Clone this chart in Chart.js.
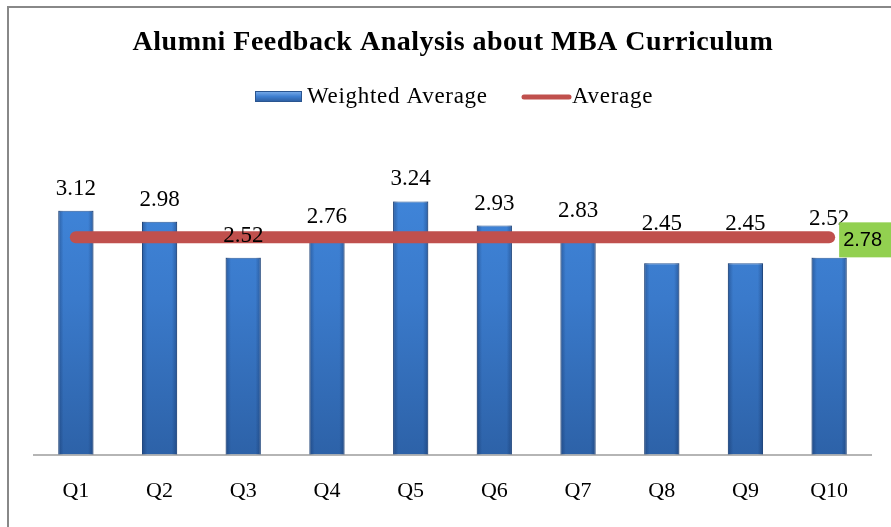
<!DOCTYPE html>
<html>
<head>
<meta charset="utf-8">
<script src="https://cdn.jsdelivr.net/npm/chart.js@4"></script>
<style>
  html, body { margin: 0; padding: 0; background: #fff; }
  #wrap { width: 891px; height: 527px; position: relative; }
</style>
</head>
<body>
<div id="wrap"><canvas id="myChart" width="891" height="527"></canvas></div>
<script>
const questions = ['Q1', 'Q2', 'Q3', 'Q4', 'Q5', 'Q6', 'Q7', 'Q8', 'Q9', 'Q10'];
const weightedAvg = [3.12, 2.98, 2.52, 2.76, 3.24, 2.93, 2.83, 2.45, 2.45, 2.52];
const overallAvg = [2.78, 2.78, 2.78, 2.78, 2.78, 2.78, 2.78, 2.78, 2.78, 2.78];
const chartTitle = 'Alumni Feedback Analysis about MBA Curriculum';

const serif = '"Liberation Serif", "Times New Roman", serif';

// frame, title, legend and value labels drawn by hand
const decor = {
  id: 'decor',
  beforeDraw(chart) {
    const c = chart.ctx;
    c.save();
    c.strokeStyle = '#888888';
    c.lineWidth = 2;
    c.beginPath();
    c.moveTo(8, 600);
    c.lineTo(8, 7);
    c.lineTo(900, 7);
    c.stroke();
    c.restore();
  },
  afterDatasetDraw(chart, args) {
    if (args.index !== 0) return;
    // darker bevel on the bar sides
    const c = chart.ctx;
    c.save();
    args.meta.data.forEach(bar => {
      const w = bar.width, x0 = bar.x - w / 2;
      const g = c.createLinearGradient(x0, 0, x0 + w, 0);
      g.addColorStop(0, 'rgba(10,30,70,0.35)');
      g.addColorStop(0.15, 'rgba(10,30,70,0)');
      g.addColorStop(0.85, 'rgba(10,30,70,0)');
      g.addColorStop(1, 'rgba(10,30,70,0.35)');
      c.fillStyle = g;
      c.fillRect(x0, bar.y, w, bar.base - bar.y);
    });
    c.restore();
  },
  afterDraw(chart) {
    const c = chart.ctx;
    c.save();
    c.fillStyle = '#000';
    c.textAlign = 'center';
    c.textBaseline = 'middle';
    c.font = 'bold 28px ' + serif;
    c.letterSpacing = '0.5px';
    c.fillText(chartTitle, 453, 43);

    // legend
    const ds = chart.data.datasets;
    c.font = '23px ' + serif;
    c.letterSpacing = '0.7px';
    c.textAlign = 'left';
    let g = c.createLinearGradient(0, 91, 0, 102);
    g.addColorStop(0, '#7fb0ec');
    g.addColorStop(0.5, '#3f7fd0');
    g.addColorStop(1, '#2b5a9c');
    c.fillStyle = g;
    c.fillRect(255, 91, 47, 11);
    c.strokeStyle = '#2a5590';
    c.lineWidth = 1;
    c.strokeRect(255.5, 91.5, 46, 10);
    c.fillStyle = '#000';
    c.fillText(ds[0].label, 307, 97);
    c.strokeStyle = ds[1].borderColor;
    c.lineWidth = 5;
    c.lineCap = 'round';
    c.beginPath();
    c.moveTo(524, 97);
    c.lineTo(569, 97);
    c.stroke();
    c.fillText(ds[1].label, 572, 97);
    c.letterSpacing = '0px';

    // value labels above bars (last three sit higher, clear of the line)
    const meta = chart.getDatasetMeta(0);
    c.textAlign = 'center';
    c.textBaseline = 'alphabetic';
    c.font = '23px ' + serif;
    meta.data.forEach((bar, i) => {
      const gap = i >= 7 ? 33 : 16;
      c.fillText(weightedAvg[i].toFixed(2), bar.x, bar.y - gap);
    });

    // green average tag at line end
    const lm = chart.getDatasetMeta(1);
    const last = lm.data[lm.data.length - 1];
    c.fillStyle = '#92d050';
    c.fillRect(last.x + 10, last.y - 15, 60, 35);
    c.fillStyle = '#000';
    c.textAlign = 'left';
    c.textBaseline = 'middle';
    c.font = '20px "Liberation Sans", Arial, sans-serif';
    c.fillText(overallAvg[overallAvg.length - 1].toFixed(2), last.x + 14, last.y + 3);
    c.restore();
  }
};

const ctx = document.getElementById('myChart').getContext('2d');
const myChart = new Chart(ctx, {
  type: 'bar',
  data: {
    labels: questions,
    datasets: [{
      label: 'Weighted Average',
      data: weightedAvg,
      backgroundColor: (context) => {
        const area = context.chart.chartArea;
        if (!area) return '#3c7dd0';
        const gr = context.chart.ctx.createLinearGradient(0, area.top, 0, area.bottom);
        gr.addColorStop(0, '#428ae0');
        gr.addColorStop(0.5, '#3a7acb');
        gr.addColorStop(1, '#2d62a8');
        return gr;
      },
      borderColor: '#2b5a98',
      borderWidth: 1,
      categoryPercentage: 1,
      barPercentage: 0.42,
      order: 2
    }, {
      type: 'line',
      label: 'Average',
      data: overallAvg,
      borderColor: '#c0504d',
      backgroundColor: '#c0504d',
      borderWidth: 12,
      borderCapStyle: 'round',
      pointRadius: 0,
      order: 1
    }]
  },
  options: {
    responsive: false,
    animation: false,
    layout: { padding: { top: 142, left: 34, right: 20, bottom: 0 } },
    plugins: {
      legend: { display: false },
      title: { display: false },
      tooltip: { enabled: false }
    },
    scales: {
      y: {
        display: false,
        min: 0,
        max: 4
      },
      x: {
        grid: { display: false, drawTicks: false },
        border: { display: true, color: '#b5b5b5', width: 2 },
        ticks: {
          color: '#000',
          padding: 23,
          font: { family: serif, size: 22 }
        }
      }
    }
  },
  plugins: [decor]
});
</script>
</body>
</html>
